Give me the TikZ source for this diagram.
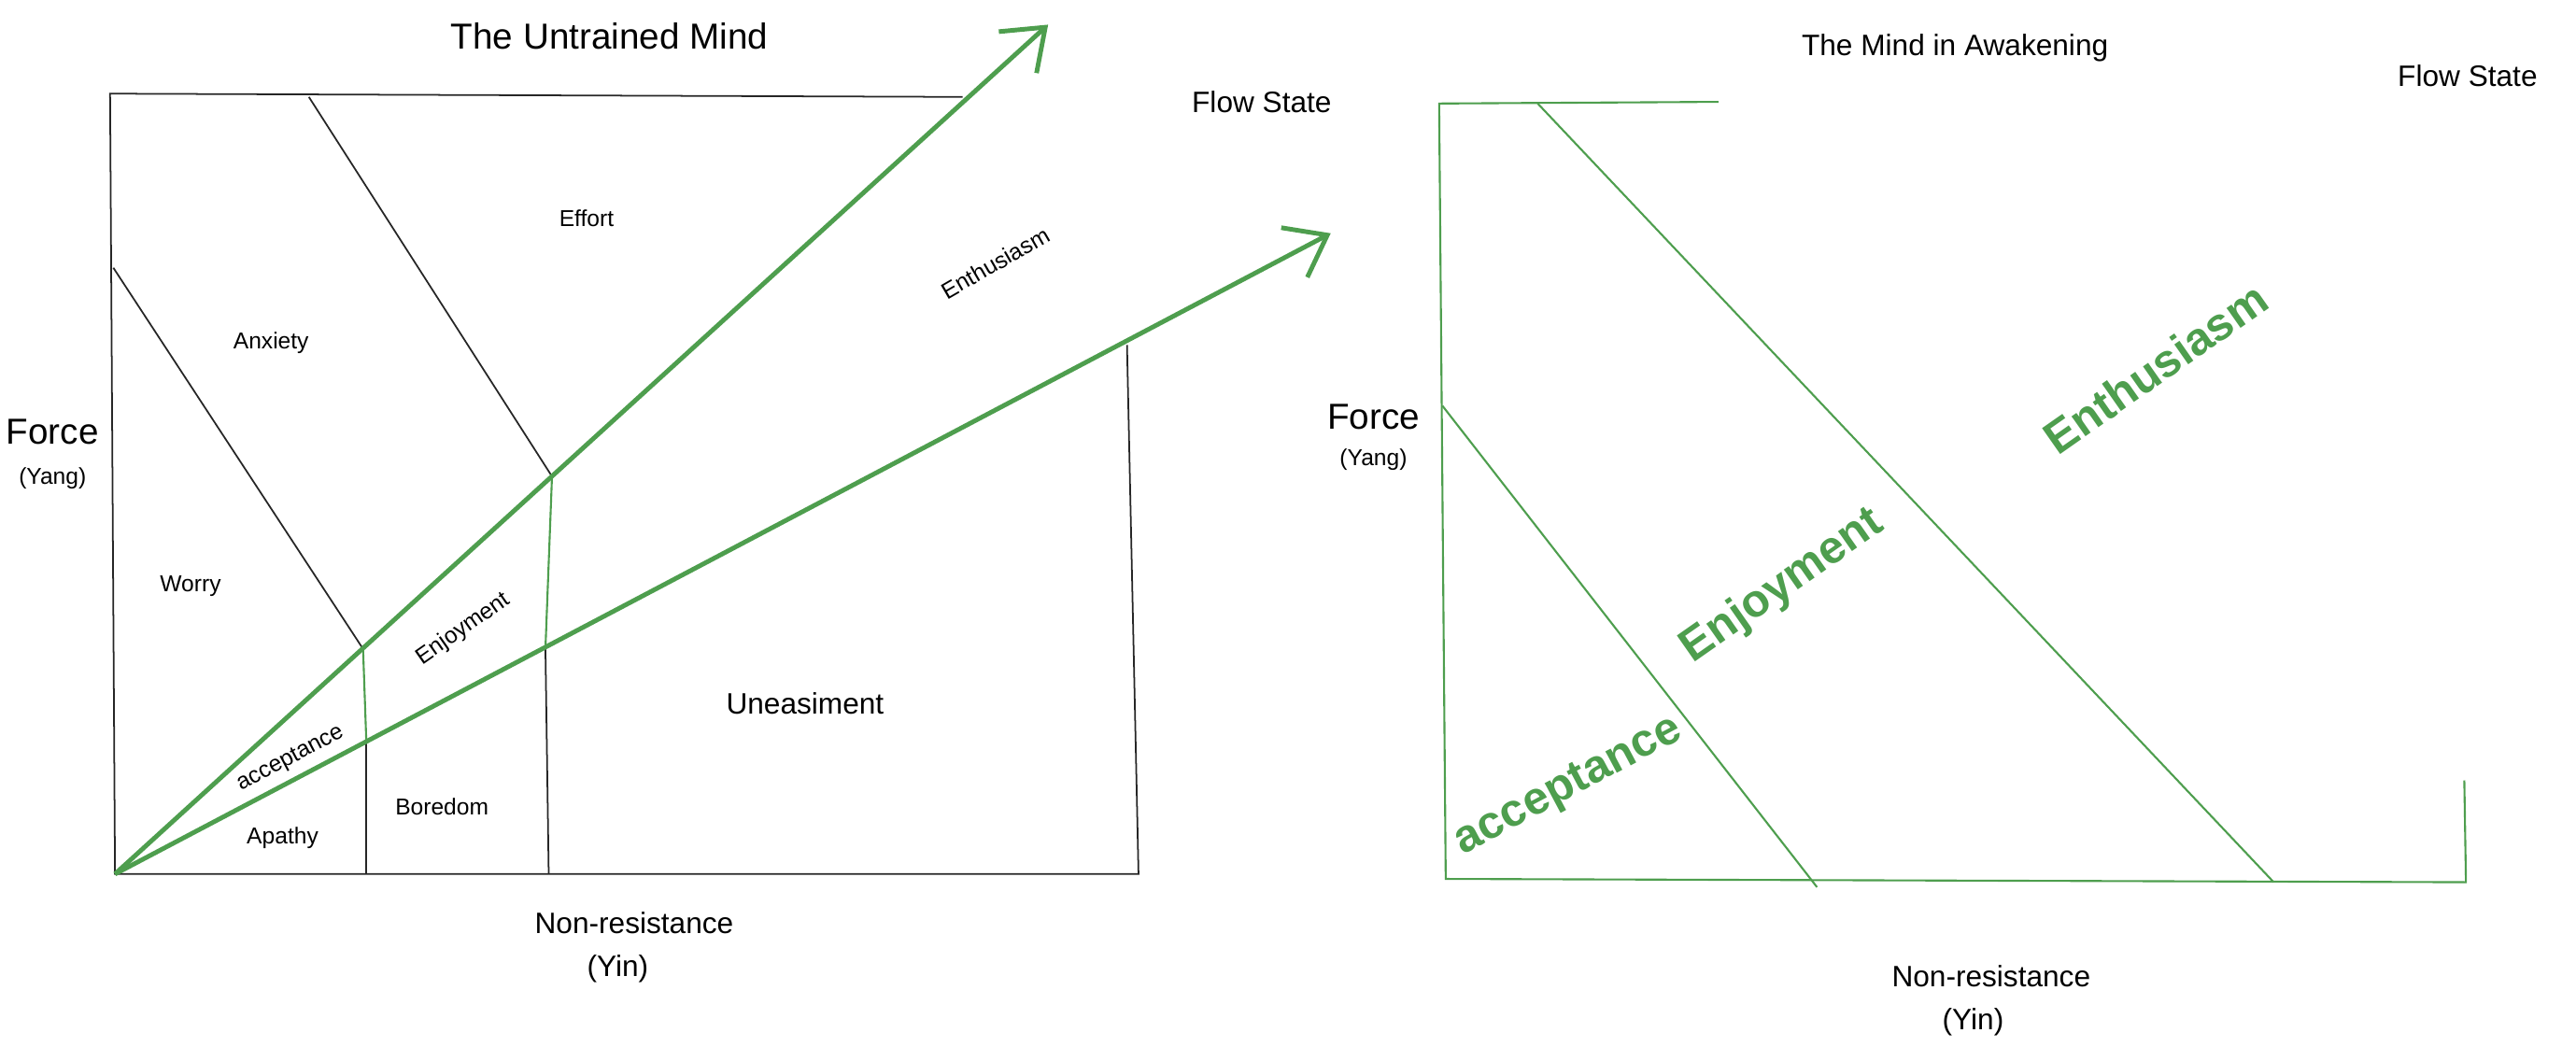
\documentclass[tikz,border=0pt]{standalone}
\usepackage{fontspec}
\setmainfont{Liberation Sans}
\usetikzlibrary{arrows.meta}
\definecolor{leaf}{RGB}{78,158,78}
\tikzset{
  frame/.style={draw=black!85,line width=0.5pt},
  greenline/.style={draw=leaf,line width=0.6pt},
  flowarrow/.style={draw=leaf,line width=1.4pt,-{Straight Barb[length=4mm,width=6mm]}},
  small/.style={font=\fontsize{7}{8}\selectfont},
  mid/.style={font=\fontsize{9}{10}\selectfont},
  big/.style={font=\fontsize{11}{12}\selectfont},
  huge/.style={font=\fontsize{14}{16}\selectfont\bfseries,text=leaf},
}
\begin{document}
\begin{tikzpicture}[x=0.01759cm,y=-0.01759cm]
  \useasboundingbox (0,0) rectangle (1568,637);
  %LEFT PICTURE
  \coordinate (o) at (70,532);
  \draw[frame] (586,59) -- (67,57) -- (o) -- (693,532) -- (686,210);
  \draw[frame] (188,59) -- (336,290);
  \draw[greenline] (336,290) -- (332,395);
  \draw[frame] (332,395) -- (334,532);
  \draw[frame] (69,163) -- (221,395);
  \draw[greenline] (221,395) -- (223,452);
  \draw[frame] (223,452) -- (223,532);
  \coordinate (tip1) at (638,15);
  \coordinate (tip2) at (810,142);
  \draw[flowarrow] (o) -- (tip1);
  \draw[flowarrow] (o) -- (tip2);
  %LABELS left
  \node[big] (title1) at (371,22) {The Untrained Mind};
  \node[mid] (flow1) at (768,62) {Flow State};
  \node[small,rotate=30] (enth1) at (606,160) {Enthusiasm};
  \node[small] (effort) at (357,133) {Effort};
  \node[small] (anx) at (165,209) {Anxiety};
  \node[big] (force1) at (32,263) {Force};
  \node[small] (yang1) at (32,291) {(Yang)};
  \node[small] (worry) at (116,357) {Worry};
  \node[small,rotate=35] (enj1) at (282,383) {Enjoyment};
  \node[mid] (unease) at (490,428) {Uneasiment};
  \node[small,rotate=28] (acc1) at (177,462) {acceptance};
  \node[small] (bore) at (269,491) {Boredom};
  \node[small] (apathy) at (172,510) {Apathy};
  \node[mid] (nonres1) at (386,562) {Non-resistance};
  \node[mid] (yin1) at (376,590) {(Yin)};
  %RIGHT PICTURE
  \draw[greenline] (1046,62) -- (876,63) -- (880,535) -- (1501,537) -- (1500,475);
  \draw[greenline] (936,63) -- (1384,537);
  \draw[greenline] (878,247) -- (1106,540);
  %LABELS right
  \node[mid] (title2) at (1190,29) {The Mind in Awakening};
  \node[mid] (flow2) at (1502,46) {Flow State};
  \node[big] (force2) at (836,254) {Force};
  \node[small] (yang2) at (836,280) {(Yang)};
  \node[huge,rotate=35] (enth2) at (1312,224) {Enthusiasm};
  \node[huge,rotate=35] (enj2) at (1085,357) {Enjoyment};
  \node[huge,rotate=28] (acc2) at (955,479) {acceptance};
  \node[mid] (nonres2) at (1212,594) {Non-resistance};
  \node[mid] (yin2) at (1201,622) {(Yin)};
\end{tikzpicture}
\end{document}
